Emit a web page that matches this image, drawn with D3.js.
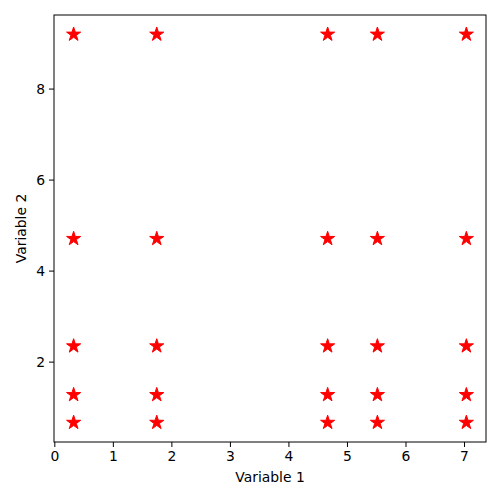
<!DOCTYPE html>
<html>
<head>
<meta charset="utf-8">
<script src="https://cdn.jsdelivr.net/npm/d3@7"></script>
<style>
  body { margin: 0; background: #fff; }
  text { font-family: "DejaVu Sans", sans-serif; }
</style>
</head>
<body>
<svg id="chart" width="500" height="500"></svg>
<script>
// data: every x level paired with every y level
const xValues = [0.33, 1.75, 4.67, 5.52, 7.04];
const yValues = [0.66, 1.27, 2.34, 4.70, 9.19];
const xTicks = [0, 1, 2, 3, 4, 5, 6, 7];
const yTicks = [2, 4, 6, 8];
const xLabel = "Variable 1";
const yLabel = "Variable 2";

const points = [];
yValues.forEach(function (yv) {
  xValues.forEach(function (xv) { points.push({x: xv, y: yv}); });
});

//plot area
const margin = {top: 15, right: 14, bottom: 58, left: 54};
const width = 500 - margin.left - margin.right;
const height = 500 - margin.top - margin.bottom;

//matplotlib style 5% padding on the data range
function padded(vals) {
  const lo = d3.min(vals), hi = d3.max(vals), pad = (hi - lo) * 0.05;
  return [lo - pad, hi + pad];
}

const x = d3.scaleLinear().domain(padded(xValues)).range([0, width]);
const y = d3.scaleLinear().domain(padded(yValues)).range([height, 0]);

const svg = d3.select("#chart");
const g = svg.append("g")
  .attr("transform", "translate(" + margin.left + "," + margin.top + ")");

//points
g.selectAll("path.pt")
  .data(points)
  .enter()
  .append("path")
  .attr("class", "pt")
  .attr("d", d3.symbol().type(d3.symbolStar).size(62))
  .attr("transform", function (d) { return "translate(" + x(d.x) + "," + y(d.y) + ")"; })
  .style("fill", "#ff0000")
  .style("stroke", "#ff0000")
  .style("stroke-width", 1);

//axes
const xAxis = g.append("g")
  .attr("transform", "translate(0," + height + ")")
  .call(d3.axisBottom(x).tickValues(xTicks).tickFormat(d3.format("d")).tickSize(5).tickPadding(4));
const yAxis = g.append("g")
  .call(d3.axisLeft(y).tickValues(yTicks).tickFormat(d3.format("d")).tickSize(5).tickPadding(4));

[xAxis, yAxis].forEach(function (a) {
  a.select(".domain").remove();
  a.selectAll("line").attr("stroke", "#000").attr("stroke-width", 1);
  a.selectAll("text").style("font-size", "13.9px").attr("fill", "#000")
    .style("font-family", "'DejaVu Sans', sans-serif");
});

//frame
g.append("rect")
  .attr("width", width)
  .attr("height", height)
  .style("fill", "none")
  .style("stroke", "#000")
  .style("stroke-width", 1);

//axis labels
svg.append("text")
  .attr("x", margin.left + width / 2)
  .attr("y", 482)
  .attr("text-anchor", "middle")
  .style("font-size", "13.9px")
  .text(xLabel);
svg.append("text")
  .attr("transform", "translate(26," + (margin.top + height / 2) + ")rotate(-90)")
  .attr("text-anchor", "middle")
  .style("font-size", "13.9px")
  .text(yLabel);
</script>
</body>
</html>
